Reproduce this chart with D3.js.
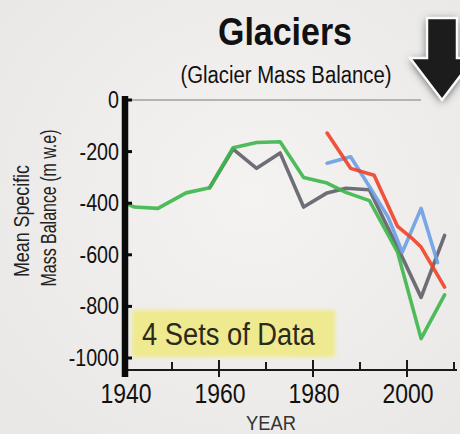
<!DOCTYPE html>
<html><head><meta charset="utf-8">
<script src="https://cdn.jsdelivr.net/npm/d3@7"></script>
<style>html,body{margin:0;padding:0;background:#eeedeb;}svg{display:block;}</style>
</head><body>
<svg id="chart" width="460" height="434"></svg>
<script>
// ---- data ----
const greenYears = [1940,1942,1947,1953,1958,1963,1968,1973,1978,1983,1987,1992,1998,2003,2008];
const greenVals  = [-400,-415,-420,-360,-340,-185,-165,-162,-300,-322,-358,-390,-590,-925,-755];
const grayYears  = [1958,1963,1968,1973,1978,1983,1987,1992,1999,2003,2008];
const grayVals   = [-340,-190,-265,-205,-415,-360,-342,-348,-610,-765,-525];
const blueYears  = [1983,1988,1992,1996,1999,2003,2006.5];
const blueVals   = [-245,-220,-335,-455,-590,-420,-630];
const redYears   = [1983,1988,1993,1998,2001,2003,2005,2008];
const redVals    = [-128,-265,-292,-490,-535,-570,-632,-725];
const yTicks = [0,-200,-400,-600,-800,-1000];
const xMajor = [1940,1960,1980,2000];
const xMinor = [1950,1970,1990,2010];

const svg = d3.select("#chart");
const W = 460, H = 434;
const font = "'Liberation Sans Narrow','Arial Narrow','Liberation Sans',Arial,sans-serif";
// approximate narrow width of a string (Arial metrics * 0.82)
const cw = {"-":0.333,"0":0.556,"1":0.556,"2":0.556,"4":0.556,"6":0.556,"8":0.556,"9":0.556};
const narrowW = (s, size) => String(s).split("").reduce((a,c)=>a+(cw[c]||0.556),0)*0.82*size;

// background
const defs = svg.append("defs");
const rg = defs.append("radialGradient").attr("id","bg").attr("cx","55%").attr("cy","45%").attr("r","70%");
rg.append("stop").attr("offset","0%").attr("stop-color","#f4f3f2");
rg.append("stop").attr("offset","100%").attr("stop-color","#e9e8e6");
svg.append("rect").attr("width",W).attr("height",H).attr("fill","url(#bg)");
const sh = defs.append("filter").attr("id","shadow").attr("x","-50%").attr("y","-50%").attr("width","200%").attr("height","200%");
sh.append("feGaussianBlur").attr("stdDeviation",4);
const yb = defs.append("filter").attr("id","soft").attr("x","-10%").attr("y","-30%").attr("width","120%").attr("height","160%");
yb.append("feGaussianBlur").attr("stdDeviation",2);

// scales
const x = d3.scaleLinear().domain([1940,2010]).range([125,454]);
const y = d3.scaleLinear().domain([0,-1000]).range([100,358]);
const axisY = 370;

// zero reference line
svg.append("line").attr("x1",x(1941)).attr("x2",x(2003)).attr("y1",y(0)).attr("y2",y(0))
  .attr("stroke","#b4b4b4").attr("stroke-width",2);

// titles
svg.append("text").attr("x",285).attr("y",45).attr("text-anchor","middle")
  .attr("font-family",font).attr("font-weight","bold").attr("font-size",38)
  .attr("textLength",134).attr("lengthAdjust","spacingAndGlyphs").attr("fill","#111").text("Glaciers");
svg.append("text").attr("x",286).attr("y",83).attr("text-anchor","middle")
  .attr("font-family",font).attr("font-size",23)
  .attr("textLength",211).attr("lengthAdjust","spacingAndGlyphs").attr("fill","#111").text("(Glacier Mass Balance)");

// arrow
const arrowPath = "M427,18 L457,18 L457,58 L474,58 L442,100 L410,58 L427,58 Z";
svg.append("path").attr("d",arrowPath).attr("fill","#555").attr("filter","url(#shadow)").attr("transform","translate(0,2)");
svg.append("path").attr("d",arrowPath).attr("fill","#1c1c1c").attr("stroke","#fafafa").attr("stroke-width",2.5);

// yellow label box
svg.append("rect").attr("x",132).attr("y",310).attr("width",203).attr("height",47)
  .attr("fill","#efe98f").attr("filter","url(#soft)");
svg.append("text").attr("x",142).attr("y",345)
  .attr("font-family",font).attr("font-size",31)
  .attr("textLength",173).attr("lengthAdjust","spacingAndGlyphs").attr("fill","#2b2a1c").text("4 Sets of Data");

// series lines
const line = d3.line().x(d=>x(d[0])).y(d=>y(d[1])).curve(d3.curveLinear);
const series = [
  {yrs: grayYears, vals: grayVals, color: "#5f5f69"},
  {yrs: greenYears, vals: greenVals, color: "#3db64b"},
  {yrs: blueYears, vals: blueVals, color: "#6c9ee4"},
  {yrs: redYears, vals: redVals, color: "#ef4127"}
];
series.forEach(s => {
  svg.append("path").datum(s.yrs.map((t,i)=>[t,s.vals[i]]))
    .attr("d",line).attr("fill","none").attr("stroke",s.color)
    .attr("stroke-width",3.6).attr("stroke-linejoin","round").attr("stroke-linecap","round")
    .attr("opacity",0.9);
});

// x axis
const xg = svg.append("g").attr("transform",`translate(0,${axisY})`);
xg.append("line").attr("x1",x(1940)).attr("x2",x(2010)+3).attr("stroke","#1a1a1a").attr("stroke-width",2.2);
xg.selectAll("line.maj").data(xMajor).join("line").attr("class","maj")
  .attr("x1",d=>x(d)).attr("x2",d=>x(d)).attr("y1",-10).attr("y2",7).attr("stroke","#1a1a1a").attr("stroke-width",2);
xg.selectAll("line.min").data(xMinor).join("line").attr("class","min")
  .attr("x1",d=>x(d)).attr("x2",d=>x(d)).attr("y1",-8).attr("y2",0).attr("stroke","#1a1a1a").attr("stroke-width",2);
xg.selectAll("text").data(xMajor).join("text")
  .attr("x",d=>x(d)+1).attr("y",33).attr("text-anchor","middle")
  .attr("font-family",font).attr("font-size",27).attr("fill","#111")
  .attr("textLength",d=>narrowW(d,28)).attr("lengthAdjust","spacingAndGlyphs").text(d=>d);

// y axis (thick)
svg.append("line").attr("x1",x(1940)).attr("x2",x(1940)).attr("y1",y(0)-4).attr("y2",axisY+7)
  .attr("stroke","#0a0a0a").attr("stroke-width",6.5);
const yg = svg.append("g");
yg.selectAll("line").data(yTicks).join("line")
  .attr("x1",x(1940)).attr("x2",x(1940)+7).attr("y1",d=>y(d)).attr("y2",d=>y(d))
  .attr("stroke","#0a0a0a").attr("stroke-width",3);
yg.selectAll("text").data(yTicks).join("text")
  .attr("x",119).attr("y",d=>y(d)+8).attr("text-anchor","end")
  .attr("font-family",font).attr("font-size",23).attr("fill","#111")
  .attr("textLength",d=>narrowW(d,24)).attr("lengthAdjust","spacingAndGlyphs").text(d=>d);

// y label
svg.append("text").attr("transform","translate(29,221) rotate(-90)").attr("text-anchor","middle")
  .attr("font-family",font).attr("font-size",22).attr("fill","#222")
  .attr("textLength",112).attr("lengthAdjust","spacingAndGlyphs").text("Mean Specific");
svg.append("text").attr("transform","translate(56,208) rotate(-90)").attr("text-anchor","middle")
  .attr("font-family",font).attr("font-size",22).attr("fill","#222")
  .attr("textLength",157).attr("lengthAdjust","spacingAndGlyphs").text("Mass Balance (m w.e)");

// x label
svg.append("text").attr("x",271).attr("y",430).attr("text-anchor","middle")
  .attr("font-family",font).attr("font-size",20).attr("fill","#333")
  .attr("textLength",50).attr("lengthAdjust","spacingAndGlyphs").text("YEAR");
</script>
</body></html>
